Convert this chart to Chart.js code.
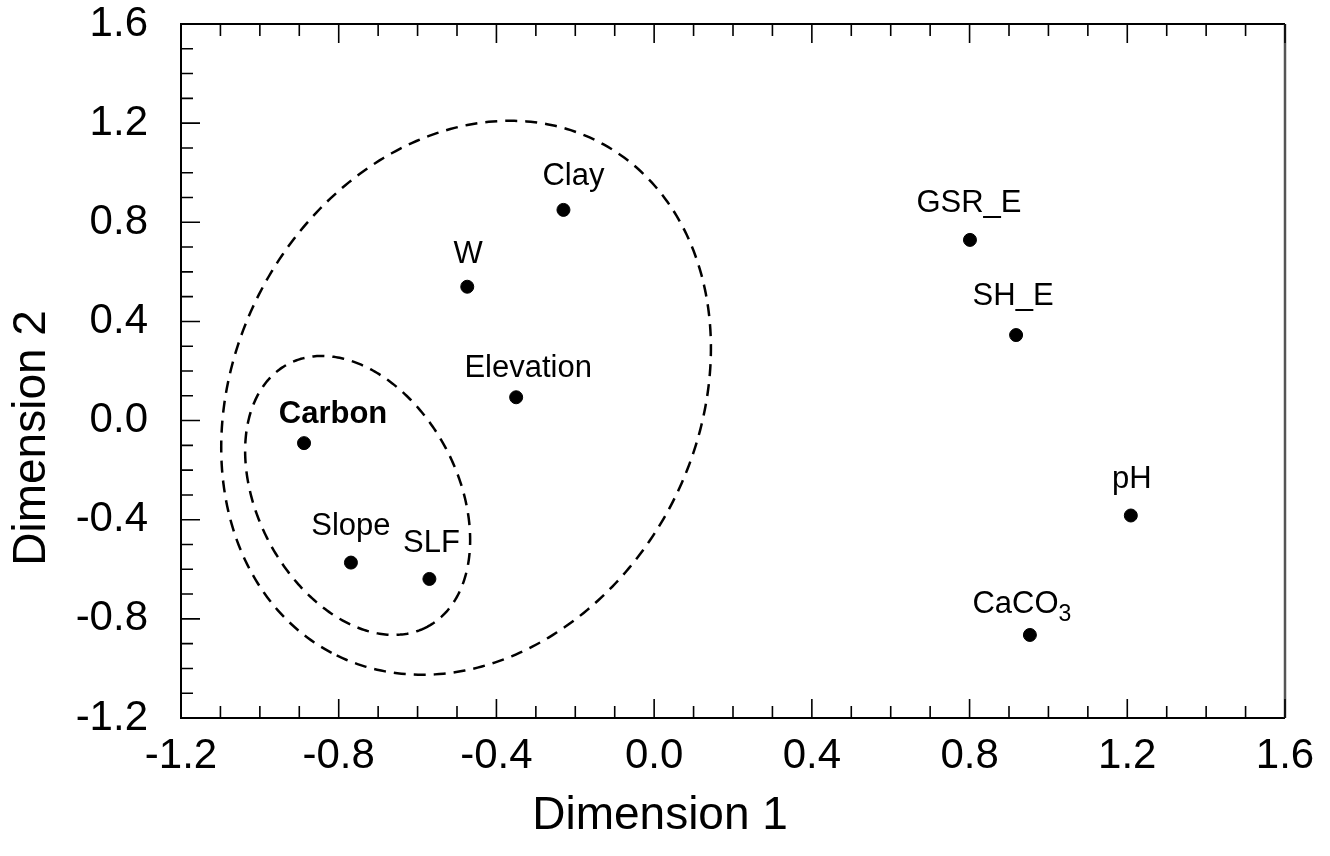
<!DOCTYPE html>
<html>
<head>
<meta charset="utf-8">
<script src="https://cdn.jsdelivr.net/npm/chart.js@4.4.1/dist/chart.umd.min.js"></script>
<style>
    html, body { margin: 0; padding: 0; background: #fff; }
    #wrap { width: 1330px; height: 856px; }
</style>
</head>
<body>
<div id="wrap"><canvas id="mds-chart" width="1330" height="856"></canvas></div>
<script>
// MDS coordinates
const variableNames = ['Carbon', 'Slope', 'SLF', 'W', 'Clay', 'Elevation', 'GSR_E', 'SH_E', 'pH', 'CaCO3'];
const dim1Values = [-0.888, -0.769, -0.570, -0.474, -0.230, -0.350, 0.801, 0.918, 1.209, 0.953];
const dim2Values = [-0.091, -0.573, -0.639, 0.540, 0.850, 0.094, 0.729, 0.345, -0.383, -0.865];

const xTickLabels = ['-1.2', '-0.8', '-0.4', '0.0', '0.4', '0.8', '1.2', '1.6'];
const yTickLabels = ['-1.2', '-0.8', '-0.4', '0.0', '0.4', '0.8', '1.2', '1.6'];

// Dashed groups: centre plus two conjugate half-diameters, all in data units
const outerGroup = { cx: -0.477, cy: 0.092, ux: -0.341, uy: -1.029, vx: -0.519, vy: 0.436 };
const innerGroup = { cx: -0.752, cy: -0.302, ux: 0.1765, uy: -0.530, vx: -0.2242, vy: -0.1888 };

// label nudges in pixels (style only)
const labelNudge = {
    Carbon: [29, -20], Slope: [0, -28], SLF: [2, -27], W: [1, -24], Clay: [10, -25],
    Elevation: [12, -20], GSR_E: [-1, -28], SH_E: [-3, -30], pH: [1, -28], CaCO3: [-8, -22]
};

const FONT = '"Liberation Sans", Arial, sans-serif';

function tickText(labels) {
    return function(value) {
        const step = Math.round(value * 10);
        if (step % 4 !== 0) return '';
        return labels[Math.round((step + 12) / 4)];
    };
}

// frame, inward ticks, dashed ellipses, point labels and axis titles
const decorPlugin = {
    id: 'decor',
    afterDraw(chart) {
        const ctx = chart.ctx;
        const xs = chart.scales.x;
        const ys = chart.scales.y;
        const area = chart.chartArea;

        ctx.save();
        // dashed ellipses
        ctx.setLineDash([12, 8]);
        ctx.lineWidth = 2.5;
        ctx.strokeStyle = '#000';
        [outerGroup, innerGroup].forEach(g => {
            ctx.beginPath();
            for (let i = 0; i <= 360; i++) {
                const t = i * Math.PI / 180;
                const px = xs.getPixelForValue(g.cx + g.ux * Math.cos(t) + g.vx * Math.sin(t));
                const py = ys.getPixelForValue(g.cy + g.uy * Math.cos(t) + g.vy * Math.sin(t));
                if (i === 0) ctx.moveTo(px, py); else ctx.lineTo(px, py);
            }
            ctx.closePath();
            ctx.stroke();
        });
        ctx.setLineDash([]);

        // frame
        ctx.lineWidth = 2;
        ctx.strokeStyle = '#000';
        ctx.beginPath();
        ctx.moveTo(area.right, area.top);
        ctx.lineTo(area.left, area.top);
        ctx.lineTo(area.left, area.bottom);
        ctx.lineTo(area.right, area.bottom);
        ctx.stroke();
        ctx.strokeStyle = '#555';
        ctx.lineWidth = 2.5;
        ctx.beginPath();
        ctx.moveTo(area.right, area.top);
        ctx.lineTo(area.right, area.bottom);
        ctx.stroke();

        // inward ticks
        ctx.strokeStyle = '#000';
        ctx.lineWidth = 1.6;
        ctx.beginPath();
        xs.ticks.forEach(t => {
            const x = xs.getPixelForValue(t.value);
            const len = Math.round(t.value * 10) % 4 === 0 ? 19 : 12;
            ctx.moveTo(x, area.bottom); ctx.lineTo(x, area.bottom - len);
            ctx.moveTo(x, area.top); ctx.lineTo(x, area.top + len);
        });
        ys.ticks.forEach(t => {
            const y = ys.getPixelForValue(t.value);
            const len = Math.round(t.value * 10) % 4 === 0 ? 19 : 12;
            ctx.moveTo(area.left, y); ctx.lineTo(area.left + len, y);
        });
        ctx.stroke();

        // point labels
        ctx.fillStyle = '#000';
        ctx.textBaseline = 'alphabetic';
        const meta = chart.getDatasetMeta(0);
        meta.data.forEach((pt, i) => {
            const name = variableNames[i];
            const nudge = labelNudge[name] || [0, -26];
            const x = pt.x + nudge[0];
            const y = pt.y + nudge[1];
            if (name === 'CaCO3') {
                ctx.font = '31px ' + FONT;
                const main = 'CaCO';
                const wMain = ctx.measureText(main).width;
                ctx.font = '23px ' + FONT;
                const wSub = ctx.measureText('3').width;
                const left = x - (wMain + wSub) / 2;
                ctx.textAlign = 'left';
                ctx.font = '31px ' + FONT;
                ctx.fillText(main, left, y);
                ctx.font = '23px ' + FONT;
                ctx.fillText('3', left + wMain, y + 8);
            } else {
                ctx.textAlign = 'center';
                ctx.font = (name === 'Carbon' ? 'bold ' : '') + '31px ' + FONT;
                ctx.fillText(name, x, y);
            }
        });

        // axis titles
        ctx.font = '46px ' + FONT;
        ctx.textAlign = 'center';
        ctx.textBaseline = 'middle';
        ctx.fillText('Dimension 1', xs.getPixelForValue(0.015), 816);
        ctx.translate(32, ys.getPixelForValue(-0.07));
        ctx.rotate(-Math.PI / 2);
        ctx.fillText('Dimension 2', 0, 0);
        ctx.restore();
    }
};

const canvas = document.getElementById('mds-chart');
const ctx = canvas.getContext('2d');

const mdsChart = new Chart(ctx, {
    type: 'scatter',
    data: {
        datasets: [{
            label: 'Variables',
            data: variableNames.map((n, i) => ({ x: dim1Values[i], y: dim2Values[i] })),
            backgroundColor: '#000',
            borderColor: '#000',
            pointRadius: 6.5,
            pointHoverRadius: 6.5,
        }]
    },
    options: {
        responsive: false,
        animation: false,
        devicePixelRatio: 1,
        layout: {
            padding: { left: 0, right: 45, top: 24, bottom: 0 }
        },
        scales: {
            x: {
                type: 'linear',
                min: -1.2,
                max: 1.6,
                grid: { display: false, drawTicks: false },
                border: { display: false },
                ticks: {
                    stepSize: 0.1,
                    autoSkip: false,
                    maxRotation: 0,
                    padding: 13,
                    color: '#000',
                    font: { family: FONT, size: 42 },
                    callback: tickText(xTickLabels)
                },
                afterFit(scale) {
                    scale.height = 138;
                    scale.paddingLeft = 0;
                    scale.paddingRight = 0;
                }
            },
            y: {
                type: 'linear',
                min: -1.2,
                max: 1.6,
                grid: { display: false, drawTicks: false },
                border: { display: false },
                ticks: {
                    stepSize: 0.1,
                    autoSkip: false,
                    padding: 33,
                    color: '#000',
                    font: { family: FONT, size: 42 },
                    callback: tickText(yTickLabels)
                },
                afterFit(scale) {
                    scale.width = 181;
                    scale.paddingTop = 0;
                    scale.paddingBottom = 0;
                }
            }
        },
        plugins: {
            legend: { display: false },
            tooltip: { enabled: false }
        }
    },
    plugins: [decorPlugin]
});
</script>
</body>
</html>
